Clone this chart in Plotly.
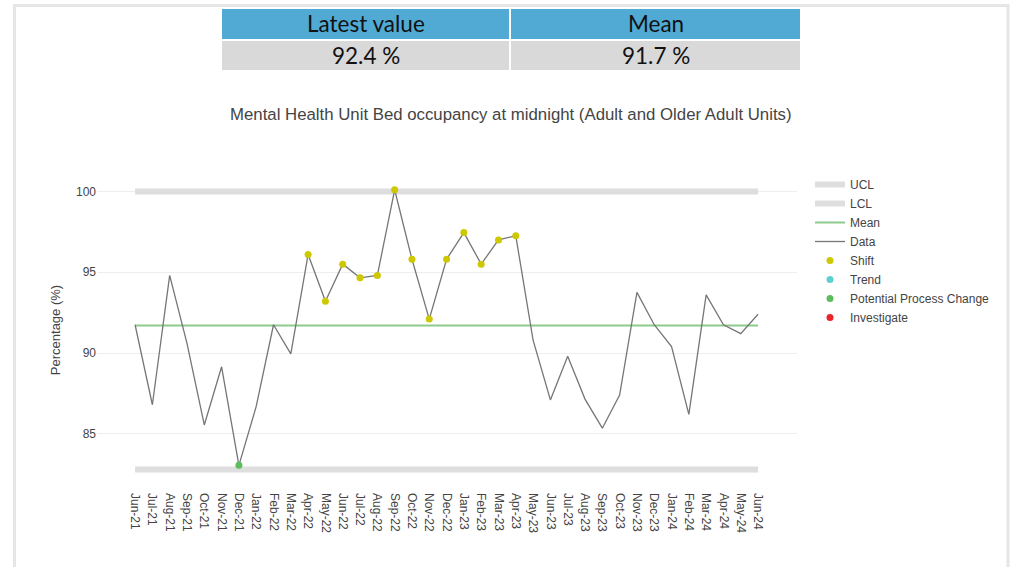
import plotly.graph_objects as go

months = ["Jun-21", "Jul-21", "Aug-21", "Sep-21", "Oct-21", "Nov-21", "Dec-21",
          "Jan-22", "Feb-22", "Mar-22", "Apr-22", "May-22", "Jun-22", "Jul-22",
          "Aug-22", "Sep-22", "Oct-22", "Nov-22", "Dec-22", "Jan-23", "Feb-23",
          "Mar-23", "Apr-23", "May-23", "Jun-23", "Jul-23", "Aug-23", "Sep-23",
          "Oct-23", "Nov-23", "Dec-23", "Jan-24", "Feb-24", "Mar-24", "Apr-24",
          "May-24", "Jun-24"]
values = [91.75, 86.8, 94.8, 90.6, 85.55, 89.15, 83.05,
          86.7, 91.75, 89.95, 96.1, 93.2, 95.5, 94.65,
          94.8, 100.1, 95.8, 92.1, 95.8, 97.45, 95.5,
          97.0, 97.25, 90.8, 87.1, 89.8, 87.15, 85.35,
          87.4, 93.75, 91.75, 90.4, 86.2, 93.6, 91.75,
          91.2, 92.4]
mean_value = 91.7
ucl_value = 100.0
lcl_value = 82.8
shift_months = ["Apr-22", "May-22", "Jun-22", "Jul-22", "Aug-22", "Sep-22",
                "Oct-22", "Nov-22", "Dec-22", "Jan-23", "Feb-23", "Mar-23", "Apr-23"]
process_change_months = ["Dec-21"]
header_labels = ["Latest value", "Mean"]
header_values = ["92.4 %", "91.7 %"]
title_text = "Mental Health Unit Bed occupancy at midnight (Adult and Older Adult Units)"

lookup = dict(zip(months, values))
shift_vals = [lookup[m] for m in shift_months]
pc_vals = [lookup[m] for m in process_change_months]

W, H = 1010, 567
L, R, T, B = 97, 797, 172, 488


def px(x):
    return (x - L) / (R - L)


def py(y):
    return (B - y) / (B - T)


FONT = "Liberation Sans, Arial, sans-serif"
fig = go.Figure()

fig.add_trace(go.Scatter(x=[months[0], months[-1]], y=[ucl_value, ucl_value], mode="lines",
                         name="UCL", line=dict(color="#dedede", width=6), hoverinfo="skip"))
fig.add_trace(go.Scatter(x=[months[0], months[-1]], y=[lcl_value, lcl_value], mode="lines",
                         name="LCL", line=dict(color="#dedede", width=6), hoverinfo="skip"))
fig.add_trace(go.Scatter(x=[months[0], months[-1]], y=[mean_value, mean_value], mode="lines",
                         name="Mean", line=dict(color="#8ccb8c", width=2)))
fig.add_trace(go.Scatter(x=months, y=values, mode="lines", name="Data",
                         line=dict(color="#767676", width=1.3)))
fig.add_trace(go.Scatter(x=shift_months, y=shift_vals, mode="markers", name="Shift",
                         marker=dict(color="#cdc800", size=7)))
fig.add_trace(go.Scatter(x=[None], y=[None], mode="markers", name="Trend",
                         marker=dict(color="#5ccfd2", size=7)))
fig.add_trace(go.Scatter(x=process_change_months, y=pc_vals, mode="markers",
                         name="Potential Process Change",
                         marker=dict(color="#5cbd5c", size=7)))
fig.add_trace(go.Scatter(x=[None], y=[None], mode="markers", name="Investigate",
                         marker=dict(color="#ea2428", size=7)))

shapes = []
# outer frame
shapes.append(dict(type="rect", xref="paper", yref="paper",
                   x0=px(14.5), x1=px(1008), y0=py(620), y1=py(5.5),
                   line=dict(color="#e6e6e6", width=3), fillcolor="rgba(0,0,0,0)", layer="below"))
cells_x = [(222, 509), (511, 800)]
annotations = []
for (x0, x1), lab, val in zip(cells_x, header_labels, header_values):
    shapes.append(dict(type="rect", xref="paper", yref="paper", x0=px(x0), x1=px(x1),
                       y0=py(39), y1=py(9), fillcolor="#50aad4", line=dict(width=0)))
    shapes.append(dict(type="rect", xref="paper", yref="paper", x0=px(x0), x1=px(x1),
                       y0=py(70), y1=py(41), fillcolor="#d9d9d9", line=dict(width=0)))
    cx = px((x0 + x1) / 2)
    annotations.append(dict(x=cx, y=py(24), xref="paper", yref="paper", text=lab,
                            showarrow=False, xanchor="center", yanchor="middle",
                            font=dict(family="Lato, sans-serif", size=22.5, color="#111")))
    annotations.append(dict(x=cx, y=py(55), xref="paper", yref="paper", text=val,
                            showarrow=False, xanchor="center", yanchor="middle",
                            font=dict(family="Lato, sans-serif", size=22.5, color="#111")))

annotations.append(dict(x=px(511), y=py(115), xref="paper", yref="paper", text=title_text,
                        showarrow=False, xanchor="center", yanchor="middle",
                        font=dict(family=FONT, size=16.8, color="#444")))

fig.update_layout(
    width=W, height=H,
    margin=dict(l=L, r=W - R, t=T, b=H - B, pad=0),
    paper_bgcolor="white", plot_bgcolor="white",
    font=dict(family=FONT, size=12, color="#444"),
    shapes=shapes, annotations=annotations,
    showlegend=True,
    legend=dict(x=px(810), y=py(T - 2), xanchor="left", yanchor="top",
                font=dict(family=FONT, size=12, color="#444"),
                bgcolor="rgba(0,0,0,0)"),
    xaxis=dict(type="category", categoryorder="array", categoryarray=months,
               range=[-2.2, 38.25], tickangle=90, showgrid=False, zeroline=False,
               showline=False, ticks="", ticklabelstandoff=4,
               tickfont=dict(size=12, color="#444")),
    yaxis=dict(range=[81.65, 101.2], tickvals=[85, 90, 95, 100], showgrid=True,
               gridcolor="#eeeeee", zeroline=False, showline=False, ticks="",
               title=dict(text="Percentage (%)", font=dict(size=13, color="#444"), standoff=12),
               tickfont=dict(size=12, color="#444")),
)

fig.write_html("out.html", config={"displayModeBar": False},
               post_script="document.body.style.margin='0';document.body.style.overflow='hidden';")
